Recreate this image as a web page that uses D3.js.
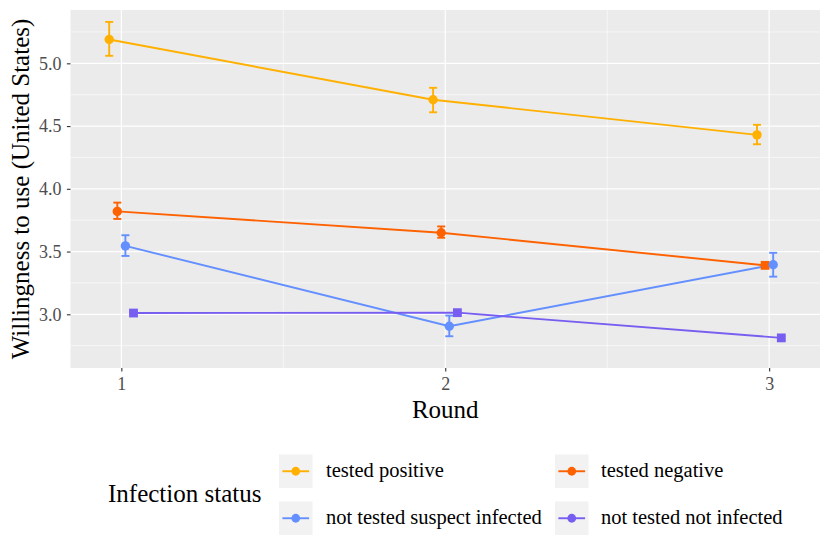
<!DOCTYPE html>
<html>
<head>
<meta charset="utf-8">
<script src="https://cdn.jsdelivr.net/npm/d3@7"></script>
<style>
  body { margin: 0; background: #fff; }
  svg { font-family: "Liberation Serif", "DejaVu Serif", serif; }
  .tick text { font-family: "Liberation Serif", serif !important; }
</style>
</head>
<body>
<div id="chart"></div>
<script>
// chart data
const rounds = [1, 2, 3];
const groups = ["tested positive", "tested negative", "not tested suspect infected", "not tested not infected"];
const colors = ["#FFB000", "#FE6100", "#648FFF", "#785EF0"];

const meanPositive = [5.19, 4.71, 4.43];
const meanNegative = [3.82, 3.65, 3.39];
const meanSuspect  = [3.545, 2.905, 3.395];
const meanNotInf   = [3.01, 3.013, 2.812];

const lowPositive = [5.06, 4.61, 4.355];
const lowNegative = [3.76, 3.61, 3.37];
const lowSuspect  = [3.465, 2.825, 3.30];
const lowNotInf   = [3.0, 3.005, 2.80];

const highPositive = [5.33, 4.805, 4.51];
const highNegative = [3.89, 3.70, 3.41];
const highSuspect  = [3.63, 2.99, 3.49];
const highNotInf   = [3.02, 3.02, 2.825];

// marker shape per point (circle / square)
const shapePositive = ["circle", "circle", "circle"];
const shapeNegative = ["circle", "circle", "square"];
const shapeSuspect  = ["circle", "circle", "circle"];
const shapeNotInf   = ["square", "square", "square"];

const yTicks = [3.0, 3.5, 4.0, 4.5, 5.0];

const means = [meanPositive, meanNegative, meanSuspect, meanNotInf];
const lows = [lowPositive, lowNegative, lowSuspect, lowNotInf];
const highs = [highPositive, highNegative, highSuspect, highNotInf];
const shapes = [shapePositive, shapeNegative, shapeSuspect, shapeNotInf];
const dodge = [-0.0375, -0.0125, 0.0125, 0.0375];

const series = groups.map((g, i) => ({
  name: g,
  color: colors[i],
  points: rounds.map((r, j) => ({
    x: r + dodge[i], y: means[i][j], lo: lows[i][j], hi: highs[i][j], shape: shapes[i][j]
  }))
}));

const W = 830, H = 554;
const margin = {top: 10, left: 70.5, right: 10, bottom: 186};
const width = W - margin.left - margin.right,
      height = H - margin.top - margin.bottom;

const svg = d3.select("#chart").append("svg")
  .attr("width", W).attr("height", H);

const g = svg.append("g").attr("transform", `translate(${margin.left},${margin.top})`);

const x = d3.scaleLinear().domain([0.843, 3.157]).range([0, width]);
const y = d3.scaleLinear().domain([2.572, 5.425]).range([height, 0]);

// panel
g.append("rect").attr("width", width).attr("height", height).attr("fill", "#EBEBEB");

// minor grid
const yMinor = yTicks.map(t => t - 0.25).concat([5.25]);
g.selectAll(".ymin").data(yMinor).enter().append("line")
  .attr("x1", 0).attr("x2", width)
  .attr("y1", d => y(d)).attr("y2", d => y(d))
  .attr("stroke", "#fff").attr("stroke-width", 0.6);
g.selectAll(".xmin").data([1.5, 2.5]).enter().append("line")
  .attr("y1", 0).attr("y2", height)
  .attr("x1", d => x(d)).attr("x2", d => x(d))
  .attr("stroke", "#fff").attr("stroke-width", 0.6);

// major grid
g.selectAll(".ymaj").data(yTicks).enter().append("line")
  .attr("x1", 0).attr("x2", width)
  .attr("y1", d => y(d)).attr("y2", d => y(d))
  .attr("stroke", "#fff").attr("stroke-width", 1.2);
g.selectAll(".xmaj").data(rounds).enter().append("line")
  .attr("y1", 0).attr("y2", height)
  .attr("x1", d => x(d)).attr("x2", d => x(d))
  .attr("stroke", "#fff").attr("stroke-width", 1.2);

// axes
const xAxis = g.append("g").attr("transform", `translate(0,${height})`)
  .call(d3.axisBottom(x).tickValues(rounds).tickFormat(d3.format("d")).tickSize(3.6).tickPadding(5.5));
const yAxis = g.append("g")
  .call(d3.axisLeft(y).tickValues(yTicks).tickFormat(d3.format(".1f")).tickSize(3.6).tickPadding(5.5));
[xAxis, yAxis].forEach(a => {
  a.attr("font-family", "Liberation Serif, serif").attr("font-size", 18);
  a.select(".domain").remove();
  a.selectAll(".tick line").attr("stroke", "#333").attr("stroke-width", 1.1);
  a.selectAll(".tick text").attr("fill", "#4D4D4D");
});

// lines
const line = d3.line().x(d => x(d.x)).y(d => y(d.y));
g.selectAll(".series-line").data(series).enter().append("path")
  .attr("d", d => line(d.points))
  .attr("fill", "none").attr("stroke", d => d.color).attr("stroke-width", 1.9);

// error bars
const cap = 4;
series.forEach(s => {
  const eb = g.append("g").attr("stroke", s.color).attr("stroke-width", 1.9).attr("fill", "none");
  s.points.forEach(p => {
    const px = x(p.x);
    eb.append("line").attr("x1", px).attr("x2", px).attr("y1", y(p.lo)).attr("y2", y(p.hi));
    eb.append("line").attr("x1", px - cap).attr("x2", px + cap).attr("y1", y(p.lo)).attr("y2", y(p.lo));
    eb.append("line").attr("x1", px - cap).attr("x2", px + cap).attr("y1", y(p.hi)).attr("y2", y(p.hi));
  });
});

// markers
series.forEach(s => {
  s.points.forEach(p => {
    if (p.shape === "circle") {
      g.append("circle").attr("cx", x(p.x)).attr("cy", y(p.y)).attr("r", 4.7).attr("fill", s.color);
    } else {
      g.append("rect").attr("x", x(p.x) - 4.4).attr("y", y(p.y) - 4.4)
        .attr("width", 8.8).attr("height", 8.8).attr("fill", s.color);
    }
  });
});

// axis titles
svg.append("text")
  .attr("x", margin.left + width / 2).attr("y", 418)
  .attr("text-anchor", "middle").style("font-size", "25px").attr("fill", "#000")
  .text("Round");
svg.append("text")
  .attr("transform", `translate(28.5,${margin.top + height / 2}) rotate(-90)`)
  .attr("text-anchor", "middle").style("font-size", "25px").attr("fill", "#000")
  .text("Willingness to use (United States)");

// legend
const legend = svg.append("g");
legend.append("text").attr("x", 108).attr("y", 501.5)
  .style("font-size", "25px").attr("fill", "#000").text("Infection status");

const keyX = [279, 555], keyY = [454.5, 501.5], key = 33.5;
const textX = [326, 601];
groups.forEach((name, i) => {
  const col = i % 2, row = Math.floor(i / 2);
  const kx = keyX[col], ky = keyY[row];
  legend.append("rect").attr("x", kx).attr("y", ky).attr("width", key).attr("height", key).attr("fill", "#F2F2F2");
  legend.append("line").attr("x1", kx + 3.4).attr("x2", kx + key - 3.4)
    .attr("y1", ky + key / 2).attr("y2", ky + key / 2)
    .attr("stroke", colors[i]).attr("stroke-width", 1.9);
  legend.append("circle").attr("cx", kx + key / 2).attr("cy", ky + key / 2).attr("r", 4.4).attr("fill", colors[i]);
  legend.append("text").attr("x", textX[col]).attr("y", ky + key / 2 + 6)
    .style("font-size", "20.5px").attr("fill", "#000").text(name);
});
</script>
</body>
</html>
